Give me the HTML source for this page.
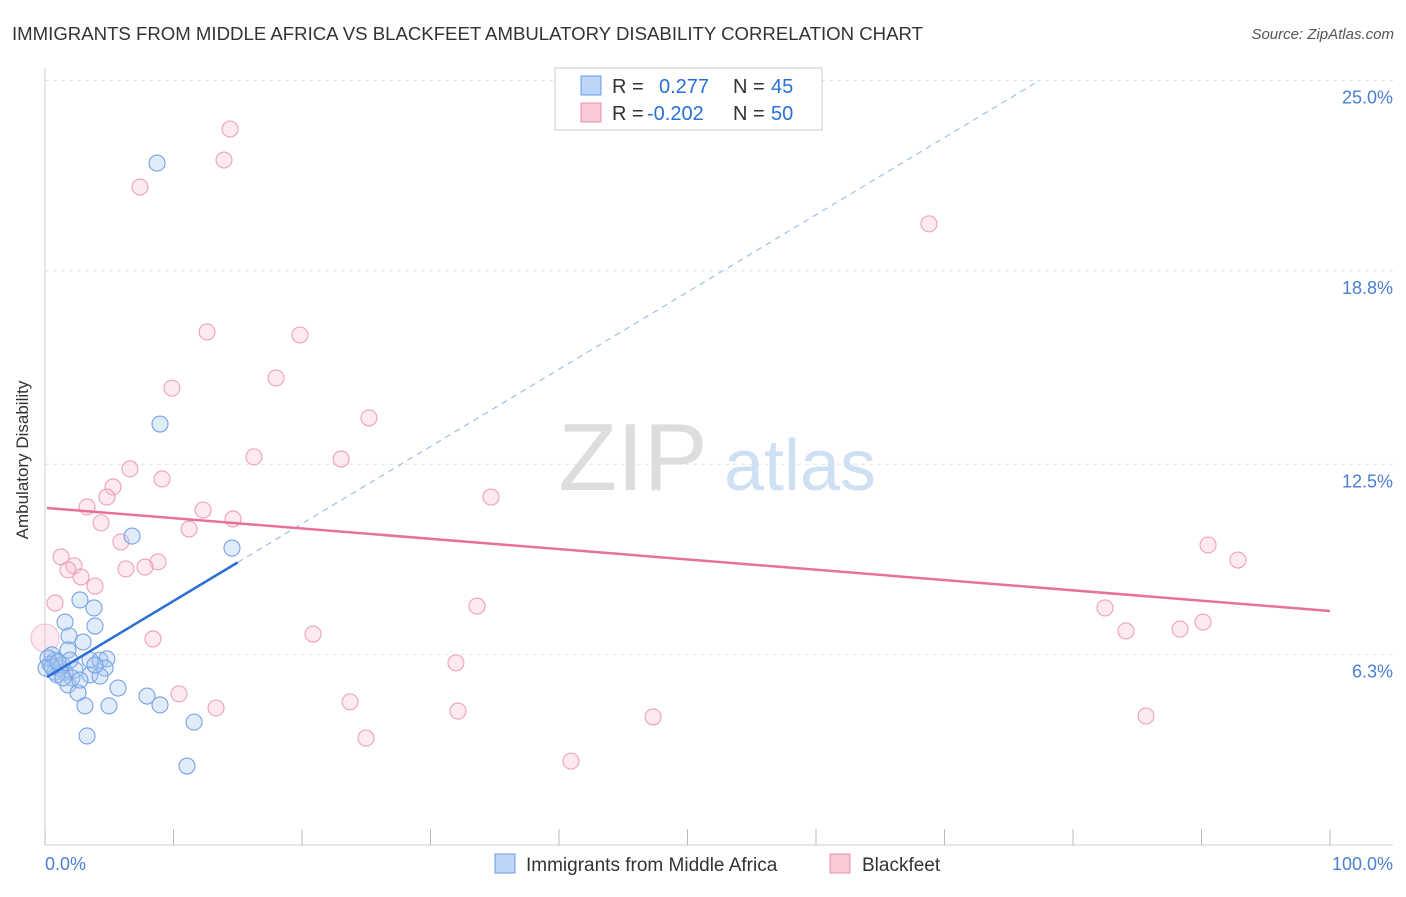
<!DOCTYPE html>
<html><head><meta charset="utf-8"><style>
body{margin:0;background:#fff;font-family:"Liberation Sans",sans-serif}
svg text{font-family:"Liberation Sans",sans-serif}
</style></head><body>
<svg id="c" width="1406" height="892">
<text x="12" y="40" font-size="18" fill="#333" textLength="911" lengthAdjust="spacingAndGlyphs">IMMIGRANTS FROM MIDDLE AFRICA VS BLACKFEET AMBULATORY DISABILITY CORRELATION CHART</text>
<text x="1394" y="39" font-size="15" fill="#555" font-style="italic" text-anchor="end">Source: ZipAtlas.com</text>
<g id="grid"></g>
<g><text x="633" y="490" font-size="96" fill="#ddd" font-family="Liberation Serif" text-anchor="middle">ZIP</text><text x="800" y="490" font-size="72" fill="#cfe0f5" text-anchor="middle">atlas</text></g>
<line x1="45" y1="68" x2="45" y2="845" stroke="#ccc"/>
<line x1="45" y1="845" x2="1393" y2="845" stroke="#ccc"/>
<g id="ticks"></g>
<text x="24" y="456" font-size="17" fill="#333" text-anchor="middle" transform="rotate(-90 28 456)">Ambulatory Disability</text>
<text x="45" y="870" font-size="18" fill="#4a7fd4">0.0%</text>
<text x="1393" y="870" font-size="18" fill="#4a7fd4" text-anchor="end">100.0%</text>
<g id="pts"></g>
<g id="trend"></g>
<g>
<rect x="555" y="68" width="267" height="62" fill="#fff" stroke="#ccc"/>
<rect x="581" y="76" width="20" height="19" fill="#bcd4f5" stroke="#6a9be0"/>
<rect x="581" y="103" width="20" height="19" fill="#f9c9d6" stroke="#e890a8"/>
<text x="612" y="93" font-size="20" fill="#333">R = </text><text x="659" y="93" font-size="20" fill="#2a6fd6">0.277</text><text x="733" y="93" font-size="20" fill="#333">N = </text><text x="771" y="93" font-size="20" fill="#2a6fd6">45</text>
<text x="612" y="120" font-size="20" fill="#333">R = </text><text x="647" y="120" font-size="20" fill="#2a6fd6">-0.202</text><text x="733" y="120" font-size="20" fill="#333">N = </text><text x="771" y="120" font-size="20" fill="#2a6fd6">50</text>
</g>
<g>
<rect x="495" y="854" width="20" height="19" fill="#bcd4f5" stroke="#6a9be0"/>
<text x="526" y="871" font-size="19" fill="#333">Immigrants from Middle Africa</text>
<rect x="830" y="854" width="20" height="19" fill="#f9c9d6" stroke="#e890a8"/>
<text x="862" y="871" font-size="19" fill="#333">Blackfeet</text>
</g>
</svg>
<script>
const yTicks=[25.0,18.8,12.5,6.3];
const yTickLabels=["25.0%","18.8%","12.5%","6.3%"];
const xTicks=[0,10,20,30,40,50,60,70,80,90,100];
const blueX=[8.72,8.95,6.77,14.55,2.72,3.81,1.56,3.89,1.87,2.96,1.79,0.54,0.78,0.39,1.17,1.56,0.78,2.33,3.50,4.28,4.82,4.67,3.50,2.10,1.79,2.57,3.11,4.98,5.68,7.94,8.95,11.60,3.27,11.05,4.28,1.32,0.93,0.23,0.08,2.72,3.89,1.95,1.40,0.54,1.01];
const blueY=[22.31,13.81,10.16,9.77,8.08,7.82,7.36,7.23,6.91,6.71,6.45,6.29,6.12,5.99,5.86,5.73,5.73,5.80,6.12,6.12,6.16,5.86,5.64,5.54,5.31,5.05,4.63,4.63,5.21,4.95,4.66,4.10,3.65,2.67,5.60,5.96,5.64,6.19,5.86,5.47,5.96,6.12,5.54,5.90,6.06];
const pinkX=[14.40,13.93,7.39,68.79,12.61,19.84,9.88,17.98,25.21,16.26,23.04,6.61,9.11,5.29,4.82,34.71,3.27,12.30,14.63,4.36,11.21,5.91,1.25,90.51,92.84,2.26,1.79,8.79,7.78,6.30,2.80,3.89,0.78,33.62,82.49,90.12,84.12,88.33,20.86,8.40,0.0,31.98,10.43,23.74,13.31,32.14,47.32,85.68,24.98,40.93];
const pinkY=[23.42,22.41,21.53,20.33,16.81,16.71,14.98,15.31,14.01,12.74,12.67,12.35,12.02,11.76,11.43,11.43,11.11,11.01,10.72,10.59,10.39,9.97,9.48,9.87,9.38,9.19,9.06,9.32,9.15,9.09,8.83,8.53,7.98,7.88,7.82,7.36,7.07,7.13,6.97,6.81,6.84,6.03,5.02,4.76,4.56,4.46,4.27,4.30,3.58,2.83];
const blueTrend=[5.53,0.2516]; // intercept, slope
const pinkTrend=[11.08,-0.0336];
const NS="http://www.w3.org/2000/svg";
const xs=v=>45+v*12.85, ys=v=>848-v*30.7;
function mk(t,a,p){const e=document.createElementNS(NS,t);for(const k in a)e.setAttribute(k,a[k]);p.appendChild(e);return e;}
const grid=document.getElementById('grid');
yTicks.forEach((t,i)=>{
 const l=mk('line',{x1:45,x2:1393,y1:ys(t),y2:ys(t),stroke:'#e2e2e2','stroke-dasharray':'4,4'},grid);
 
 
 const tx=mk('text',{x:1393,y:ys(t)+23,'font-size':18,fill:'#4a7fd4','text-anchor':'end'},grid);
 tx.textContent=yTickLabels[i];
 
 
});
const tk=document.getElementById('ticks');
xTicks.forEach(t=>{const l=mk('line',{x1:xs(t),x2:xs(t),y1:829,y2:845,stroke:'#bbb'},tk);
 
 });
const pts=document.getElementById('pts');
pinkX.forEach((x,i)=>{const c=mk('circle',{cx:xs(x),cy:ys(pinkY[i]),r:(i==40?14:8),fill:'rgba(248,185,205,0.3)',stroke:(i==40?'#f2c0cf':'#eda0b8'),'stroke-width':1.1},pts);
 
 });
blueX.forEach((x,i)=>{const c=mk('circle',{cx:xs(x),cy:ys(blueY[i]),r:8,fill:'rgba(170,200,240,0.35)',stroke:'#76a3e2','stroke-width':1.1},pts);
 
 });
const tr=document.getElementById('trend');
const bEnd=(25-blueTrend[0])/blueTrend[1];
let l1=mk('line',{x1:xs(15),y1:ys(blueTrend[0]+blueTrend[1]*15),x2:xs(bEnd),y2:ys(25),stroke:'#8fb3e8','stroke-width':1,'stroke-dasharray':'6,5'},tr);


let l2=mk('line',{x1:xs(0.15),y1:ys(blueTrend[0]+blueTrend[1]*0.15),x2:xs(15),y2:ys(blueTrend[0]+blueTrend[1]*15),stroke:'#2a6fd6','stroke-width':2.5},tr);


let l3=mk('line',{x1:xs(0.15),y1:ys(pinkTrend[0]+pinkTrend[1]*0.15),x2:xs(100),y2:ys(pinkTrend[0]+pinkTrend[1]*100),stroke:'#e8709a','stroke-width':2.5},tr);


</script>
</body></html>
